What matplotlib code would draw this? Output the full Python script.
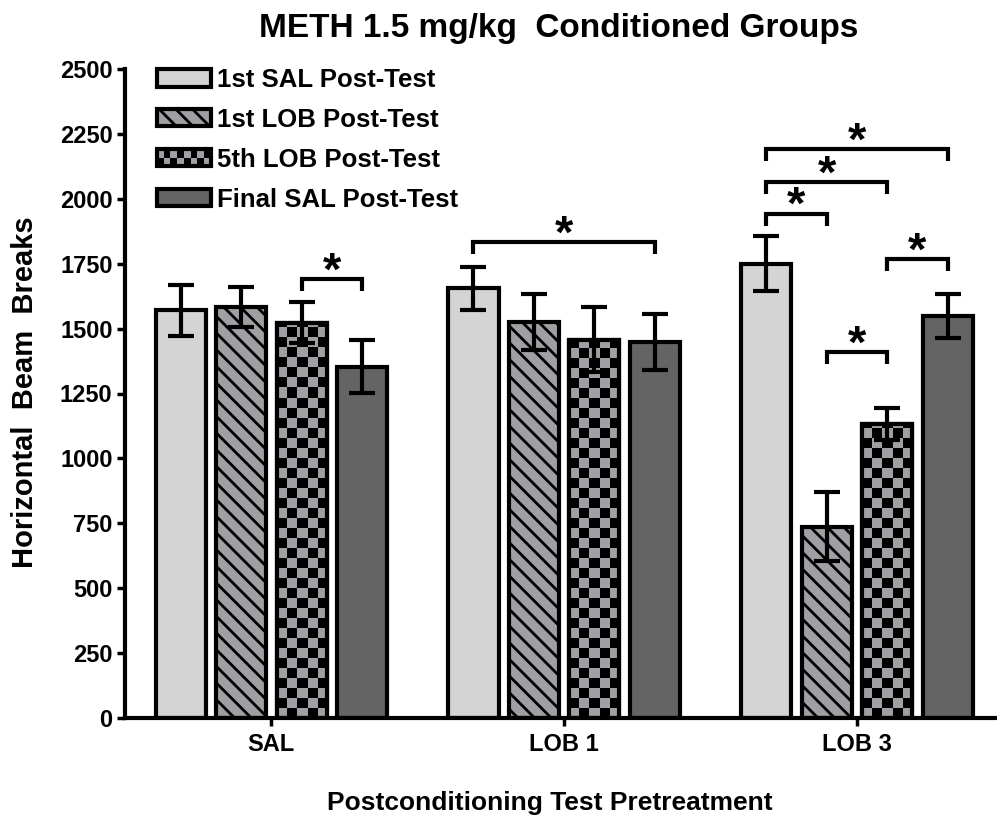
import numpy as np
import matplotlib
matplotlib.use("Agg")
import matplotlib.pyplot as plt
from matplotlib.patches import Rectangle, Patch
from matplotlib.colors import ListedColormap
from matplotlib.legend_handler import HandlerBase

plt.rcParams['font.family'] = ['Liberation Sans', 'DejaVu Sans']
plt.rcParams['font.weight'] = 'bold'
plt.rcParams['hatch.linewidth'] = 2.0

# data
groups = ['SAL', 'LOB 1', 'LOB 3']
series = ['1st SAL Post-Test', '1st LOB Post-Test', '5th LOB Post-Test', 'Final SAL Post-Test']
sal_mean = [1570, 1583, 1523, 1354]
sal_sem = [97, 78, 80, 102]
lob1_mean = [1655, 1524, 1458, 1449]
lob1_sem = [82, 108, 125, 108]
lob3_mean = [1750, 737, 1132, 1547]
lob3_sem = [106, 134, 63, 85]

# significance brackets: (group, bar a, bar b, height)
brackets = [
    (0, 2, 3, 1692),
    (1, 0, 3, 1832),
    (2, 0, 3, 2190),
    (2, 0, 2, 2064),
    (2, 0, 1, 1943),
    (2, 2, 3, 1769),
    (2, 1, 2, 1408),
]

means = np.array([sal_mean, lob1_mean, lob3_mean])
sems = np.array([sal_sem, lob1_sem, lob3_sem])

light = '#d4d4d4'
mid = '#a0a0a4'
dark = '#646464'
lw = 3

W, H = 997, 819
fig = plt.figure(figsize=(W / 100, H / 100), dpi=100)
ax = fig.add_axes([125 / W, 101 / H, 871 / W, 649 / H])
XLIM = (-0.5, 2.475)
YLIM = (0, 2500)

pitch = 0.2065
width = 0.171
offsets = (np.arange(4) - 1.5) * pitch
xg = np.arange(len(groups))

# bars
containers = []
styles = [
    dict(color=light, hatch=None),
    dict(color=mid, hatch='\\\\'),
    dict(color=mid, hatch=None),
    dict(color=dark, hatch=None),
]
for k in range(4):
    c = ax.bar(xg + offsets[k], means[:, k], width, facecolor=styles[k]['color'],
               edgecolor='k', linewidth=lw, hatch=styles[k]['hatch'], zorder=2,
               label=series[k])
    containers.append(c)

# checkerboard fill for the 5th LOB bars
px_x = 871 / (XLIM[1] - XLIM[0])
px_y = 649 / (YLIM[1] - YLIM[0])
cw = 10 / px_x
ch = 10 / px_y
checker_cmap = ListedColormap([mid, 'black'])
for rect in containers[2].patches:
    x0 = rect.get_x()
    h = rect.get_height()
    nx = int(np.ceil(rect.get_width() / cw)) + 1
    ny = int(np.ceil(h / ch)) + 1
    board = np.indices((ny, nx)).sum(axis=0) % 2
    im = ax.imshow(board, extent=(x0, x0 + nx * cw, 0, ny * ch), origin='lower',
                   cmap=checker_cmap, interpolation='nearest', aspect='auto', zorder=2.2)
    im.set_clip_path(rect)
ax.bar(xg + offsets[2], means[:, 2], width, fill=False, edgecolor='k',
       linewidth=lw, zorder=2.4)

# error bars
for k in range(4):
    ax.errorbar(xg + offsets[k], means[:, k], yerr=sems[:, k], fmt='none',
                ecolor='k', elinewidth=lw, capsize=9.7, capthick=lw, zorder=3)

# brackets with stars
drop = 46
for g, a, b, y in brackets:
    x1 = g + offsets[a]
    x2 = g + offsets[b]
    ax.plot([x1, x1, x2, x2], [y - drop, y, y, y - drop], color='k', lw=lw,
            solid_joinstyle='miter', solid_capstyle='butt', zorder=3, clip_on=False)
    ax.annotate('*', xy=((x1 + x2) / 2, y), xytext=(0, -4), textcoords='offset points',
                ha='center', va='baseline', fontsize=34, fontweight='bold')

ax.set_xlim(*XLIM)
ax.set_ylim(*YLIM)
ax.set_yticks(np.arange(0, 2501, 250))
ax.set_xticks(xg)
ax.set_xticklabels(groups)
for s in ['top', 'right']:
    ax.spines[s].set_visible(False)
for s in ['left', 'bottom']:
    ax.spines[s].set_linewidth(lw)
ax.tick_params(axis='both', direction='out', length=6, width=2.5, labelsize=17, pad=3)
ax.tick_params(axis='x', pad=5)


class CheckerHandler(HandlerBase):
    def create_artists(self, legend, orig_handle, xdescent, ydescent, width, height,
                       fontsize, trans):
        x0, y0 = -xdescent, -ydescent
        arts = [Rectangle((x0, y0), width, height, facecolor=mid, edgecolor='none',
                          transform=trans)]
        nx, ny = 8, 2
        w, h = width / nx, height / ny
        for i in range(nx):
            for j in range(ny):
                if (i + j) % 2 == 0:
                    arts.append(Rectangle((x0 + i * w, y0 + j * h), w, h, facecolor='k',
                                          edgecolor='none', transform=trans))
        arts.append(Rectangle((x0, y0), width, height, fill=False, edgecolor='k',
                              linewidth=lw, transform=trans))
        return arts


checker_proxy = Patch(facecolor=mid, edgecolor='k', linewidth=lw)
handles = [containers[0], containers[1], checker_proxy, containers[3]]
leg = ax.legend(handles, series, loc='upper left', bbox_to_anchor=(157 / W, 1 - 68 / H),
                bbox_transform=fig.transFigure, frameon=False, fontsize=18.5,
                handlelength=2.1, handleheight=0.65, handletextpad=0.25,
                labelspacing=0.62, borderpad=0, borderaxespad=0,
                handler_map={checker_proxy: CheckerHandler()})

fig.text(559 / W, 1 - 37 / H, 'METH 1.5 mg/kg  Conditioned Groups', ha='center',
         va='baseline', fontsize=24, fontweight='bold')
fig.text(549.5 / W, 1 - 810 / H, 'Postconditioning Test Pretreatment', ha='center',
         va='baseline', fontsize=19, fontweight='bold')
fig.text(33 / W, 1 - 392 / H, 'Horizontal  Beam  Breaks', ha='center', va='baseline',
         rotation=90, rotation_mode='anchor', fontsize=21, fontweight='bold')

fig.savefig('out.png', dpi=100, facecolor='white')
